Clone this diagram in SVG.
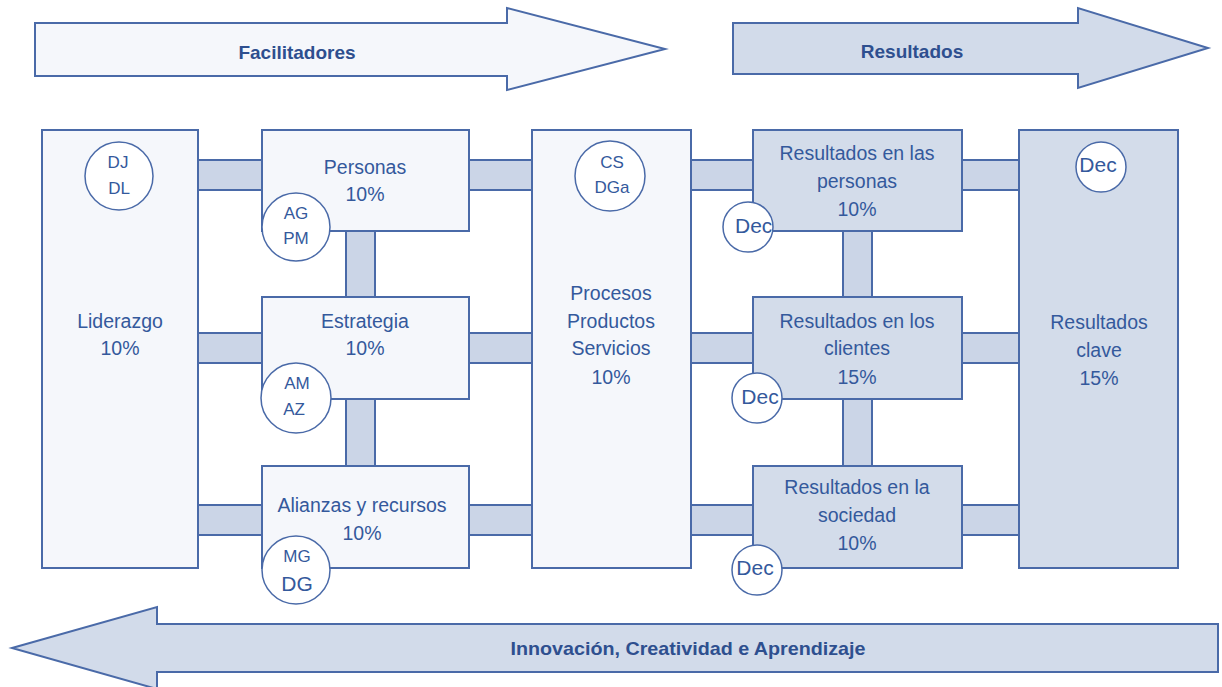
<svg xmlns="http://www.w3.org/2000/svg" width="1222" height="687" viewBox="0 0 1222 687">
<style>
.bg{fill:#ffffff}
.arrowL{fill:#f5f7fb;stroke:#4a6aa8;stroke-width:2}
.arrowB{fill:#d2dbea;stroke:#4a6aa8;stroke-width:2}
.boxL{fill:#f5f7fb;stroke:#4a6aa8;stroke-width:2}
.boxB{fill:#d3dcea;stroke:#4a6aa8;stroke-width:2}
.bar{fill:#cbd5e7;stroke:#4a6aa8;stroke-width:2}
.circ{fill:#ffffff;stroke:#4a6aa8;stroke-width:1.5}
text{font-family:"Liberation Sans",Arial,sans-serif;fill:#34599c;text-anchor:middle;dominant-baseline:central}
.t{font-size:19.5px}
.ti{font-size:17px}
.td{font-size:21px}
.h{font-size:19px;font-weight:bold;fill:#2e4f8f}
</style>
<defs>
<clipPath id="clipDec1"><circle cx="748" cy="227" r="24"/></clipPath>
</defs>
<rect class="bg" x="0" y="0" width="1222" height="687"/>

<g id="arrow-facilitadores">
<path class="arrowL" d="M35,23 H507 V8 L665,49 L507,90 V76 H35 Z"/>
<text class="h" x="297" y="52">Facilitadores</text>
</g>
<g id="arrow-resultados">
<path class="arrowB" d="M733,23 H1078 V8 L1208,48 L1078,88 V74 H733 Z"/>
<text class="h" x="912" y="51">Resultados</text>
</g>
<g id="arrow-innovacion">
<path class="arrowB" d="M12,648 L157,607 V624 H1218 V672 H157 V689 Z"/>
<text class="h" x="688" y="648" textLength="355" lengthAdjust="spacingAndGlyphs">Innovación, Creatividad e Aprendizaje</text>
</g>

<g id="connectors">
<rect class="bar" x="190" y="160" width="80" height="30"/>
<rect class="bar" x="460" y="160" width="80" height="30"/>
<rect class="bar" x="683" y="160" width="78" height="30"/>
<rect class="bar" x="954" y="160" width="73" height="30"/>
<rect class="bar" x="190" y="333" width="80" height="30"/>
<rect class="bar" x="460" y="333" width="80" height="30"/>
<rect class="bar" x="683" y="333" width="78" height="30"/>
<rect class="bar" x="954" y="333" width="73" height="30"/>
<rect class="bar" x="190" y="505" width="80" height="30"/>
<rect class="bar" x="460" y="505" width="80" height="30"/>
<rect class="bar" x="683" y="505" width="78" height="30"/>
<rect class="bar" x="954" y="505" width="73" height="30"/>
<rect class="bar" x="346" y="223" width="29" height="82"/>
<rect class="bar" x="346" y="391" width="29" height="83"/>
<rect class="bar" x="843" y="223" width="29" height="82"/>
<rect class="bar" x="843" y="391" width="29" height="83"/>
</g>

<g id="liderazgo">
<rect class="boxL" x="42" y="130" width="156" height="438"/>
<text class="t" x="120" y="321">Liderazgo</text>
<text class="t" x="120" y="348">10%</text>
<circle class="circ" cx="119" cy="176" r="34"/>
<text class="ti" x="118" y="162">DJ</text>
<text class="ti" x="119" y="188">DL</text>
</g>

<g id="personas">
<rect class="boxL" x="262" y="130" width="207" height="101"/>
<text class="t" x="365" y="167">Personas</text>
<text class="t" x="365" y="194">10%</text>
<circle class="circ" cx="296" cy="227" r="34"/>
<text class="ti" x="296" y="213">AG</text>
<text class="ti" x="296" y="238">PM</text>
</g>

<g id="estrategia">
<rect class="boxL" x="262" y="297" width="207" height="102"/>
<text class="t" x="365" y="321">Estrategia</text>
<text class="t" x="365" y="348">10%</text>
<circle class="circ" cx="296" cy="398" r="35"/>
<text class="ti" x="297" y="383">AM</text>
<text class="ti" x="294" y="409">AZ</text>
</g>

<g id="alianzas">
<rect class="boxL" x="262" y="466" width="207" height="102"/>
<text class="t" x="362" y="505">Alianzas y recursos</text>
<text class="t" x="362" y="533">10%</text>
<circle class="circ" cx="296" cy="570" r="34"/>
<text class="ti" x="297" y="556">MG</text>
<text class="td" x="297" y="583">DG</text>
</g>

<g id="procesos">
<rect class="boxL" x="532" y="130" width="159" height="438"/>
<text class="t" x="611" y="293">Procesos</text>
<text class="t" x="611" y="321">Productos</text>
<text class="t" x="611" y="348">Servicios</text>
<text class="t" x="611" y="377">10%</text>
<circle class="circ" cx="610" cy="176" r="35"/>
<text class="ti" x="612" y="162">CS</text>
<text class="ti" x="612" y="187">DGa</text>
</g>

<g id="resultados-personas">
<rect class="boxB" x="753" y="130" width="209" height="101"/>
<text class="t" x="857" y="153">Resultados en las</text>
<text class="t" x="857" y="181">personas</text>
<text class="t" x="857" y="209">10%</text>
<circle class="circ" cx="748" cy="227" r="25"/>
<text class="td" x="735" y="225" style="text-anchor:start" clip-path="url(#clipDec1)">Dec</text>
</g>

<g id="resultados-clientes">
<rect class="boxB" x="753" y="297" width="209" height="102"/>
<text class="t" x="857" y="321">Resultados en los</text>
<text class="t" x="857" y="348">clientes</text>
<text class="t" x="857" y="377">15%</text>
<circle class="circ" cx="757" cy="398" r="25"/>
<text class="td" x="760" y="396">Dec</text>
</g>

<g id="resultados-sociedad">
<rect class="boxB" x="753" y="466" width="209" height="102"/>
<text class="t" x="857" y="487">Resultados en la</text>
<text class="t" x="857" y="515">sociedad</text>
<text class="t" x="857" y="543">10%</text>
<circle class="circ" cx="757" cy="570" r="25"/>
<text class="td" x="755" y="567">Dec</text>
</g>

<g id="resultados-clave">
<rect class="boxB" x="1019" y="130" width="159" height="438"/>
<text class="t" x="1099" y="322">Resultados</text>
<text class="t" x="1099" y="350">clave</text>
<text class="t" x="1099" y="378">15%</text>
<circle class="circ" cx="1101" cy="167" r="25"/>
<text class="td" x="1098" y="164">Dec</text>
</g>
</svg>
